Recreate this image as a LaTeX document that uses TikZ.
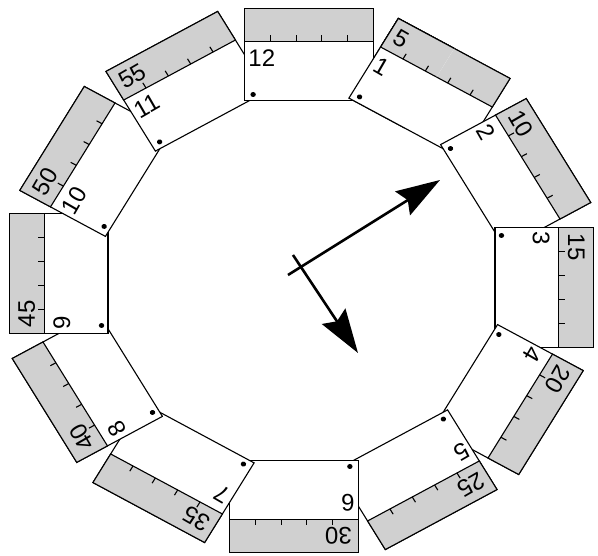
\documentclass[tikz,border=0pt]{standalone}
\usepackage{fontspec}
\setmainfont{Liberation Sans}
\usetikzlibrary{arrows.meta}
\definecolor{stripgray}{RGB}{208,208,208}

\tikzset{
  card/.style={draw=black, fill=white, line width=1.1pt},
  strip/.style={draw=black, fill=stripgray, line width=1.1pt},
  minutetick/.style={line width=1.1pt},
  hourlabel/.style={font=\fontsize{24}{26}\selectfont, inner sep=0pt, anchor=north west},
  minlabel/.style={font=\fontsize{24}{26}\selectfont, inner sep=0pt, anchor=west},
  hand/.style={line width=2.6pt, -{Stealth[length=44pt, width=28pt, inset=6pt]}},
}

% one card in its own frame, hour #1
\newcommand{\hourcard}[1]{%
  \pgfmathtruncatemacro{\ang}{-30*#1}%
  \pgfmathtruncatemacro{\mins}{5*#1}%
  \draw[card] (-53,180) rectangle (67,272);
  \draw[strip] (-53,239) rectangle (67,272);
  \foreach \t in {1,...,4}
    \draw[minutetick] (-53+24*\t,239) -- ++(0,6);
  \fill (-45,186) circle (2.5);
  \node[hourlabel, rotate=\ang] (hour#1) at (-49.5,231) {#1};
  \ifnum#1<12
    \node[minlabel, rotate=\ang] (min#1) at (-47,255.5) {\mins};
  \fi}

\begin{document}
\begin{tikzpicture}[x=1pt, y=1pt]
  \path[fill=white, use as bounding box] (-301.5,-275.5) rectangle (296.5,280.5);

  % the twelve cards, each one over the one before
  \begin{scope}[xscale=1.075]
    \foreach \k in {1,...,12} {
      \begin{scope}[rotate=-30*\k]
        \hourcard{\k}
      \end{scope}
    }
    % card 1 again, its left half over card 12
    \begin{scope}[rotate=-30]
      \clip (-60,170) rectangle (7,280);
      \hourcard{1}
    \end{scope}
  \end{scope}

  % hands
  \coordinate (mtail) at (-13.5,5.5);
  \coordinate (mtip) at (138.5,100.5);
  \coordinate (htail) at (-8.5,25.5);
  \coordinate (htip) at (56.5,-72.5);
  \draw[hand] (mtail) -- (mtip);
  \draw[hand] (htail) -- (htip);
\end{tikzpicture}
\end{document}
